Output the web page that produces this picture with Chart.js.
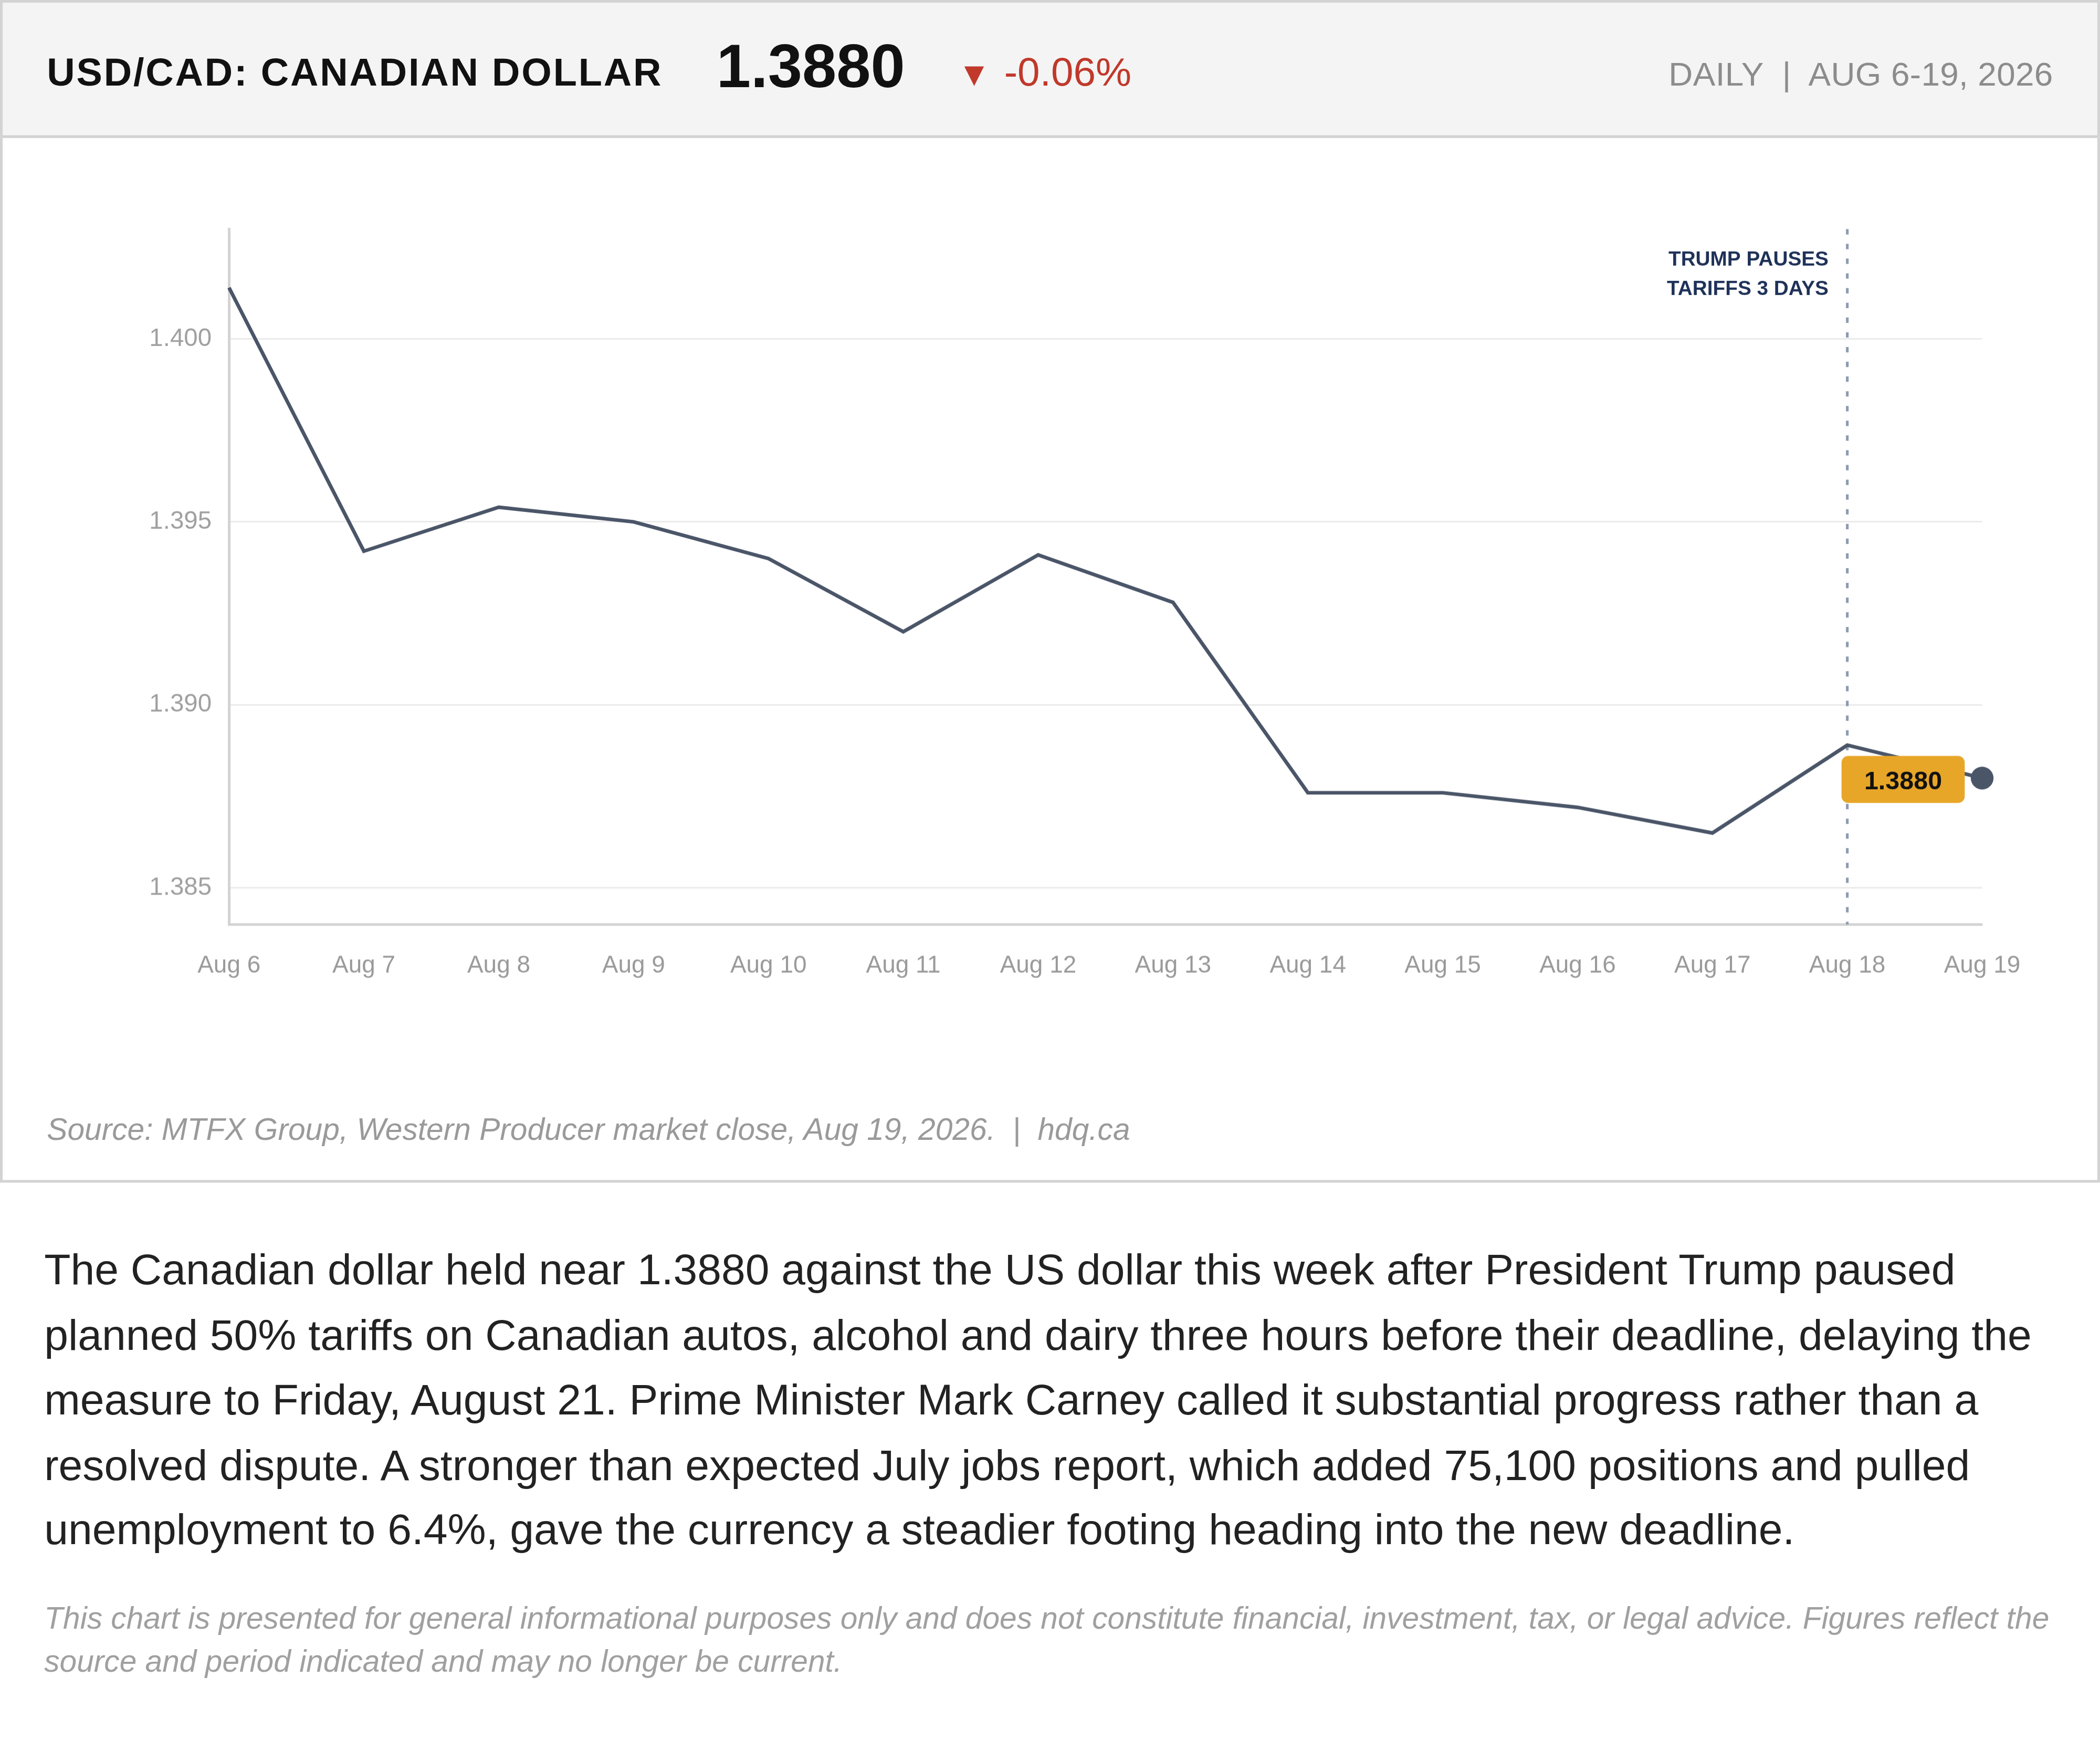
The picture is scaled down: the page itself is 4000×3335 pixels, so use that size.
<!DOCTYPE html>
<html lang="en">
<head>
<meta charset="utf-8">
<title>USD/CAD: Canadian Dollar</title>
<script src="https://cdn.jsdelivr.net/npm/chart.js@4.4.1/dist/chart.umd.min.js"></script>
<style>
  html, body { margin: 0; padding: 0; background: #fff; }
  body { width: 4000px; height: 3335px; overflow: hidden; font-family: "Liberation Sans", Arial, sans-serif; }
  /* laid out at 1568px wide, scaled up to the 4000px window */
  #page { position: relative; width: 1568px; height: 1307px; transform-origin: 0 0; transform: scale(2.5510204); }
  #page > div { position: absolute; }
  .card { left: 0; top: 0; width: 1568px; height: 883px; box-sizing: border-box; border: 2px solid #d3d3d3; }
  .head { left: 0; top: 0; width: 1568px; height: 103px; box-sizing: border-box; background: #f4f4f4; border: 2px solid #d3d3d3; }
  .line1 { line-height: 1; white-space: pre; }
  .title { left: 35px; top: 40px; font-size: 29px; font-weight: bold; letter-spacing: 1.1px; color: #111; }
  .price { left: 535px; top: 26px; font-size: 46px; font-weight: bold; color: #111; }
  .change { left: 715px; top: 39px; font-size: 30px; color: #c0392b; }
  .change .arrow { font-size: 25px; margin-right: 10px; }
  .period { right: 35px; top: 43px; font-size: 25px; letter-spacing: 0.15px; color: #8c8c8c; }
  .chart-box { left: 0; top: 103px; width: 1568px; height: 700px; }
  .source { left: 35px; top: 832px; font-size: 23px; font-style: italic; color: #9a9a9a; }
  .story { left: 33px; top: 924px; width: 1505px; font-size: 32.25px; line-height: 48.5px; color: #222; }
  .note { left: 33px; top: 1191.5px; width: 1505px; font-size: 23px; line-height: 32px; font-style: italic; color: #a0a0a0; }
</style>
</head>
<body>
<div id="page">
  <div class="card"></div>
  <div class="head"></div>
  <div class="line1 title">USD/CAD: CANADIAN DOLLAR</div>
  <div class="line1 price">1.3880</div>
  <div class="line1 change"><span class="arrow">▼</span>-0.06%</div>
  <div class="line1 period">DAILY  |  AUG 6-19, 2026</div>
  <div class="chart-box"><canvas id="usdcadChart"></canvas></div>
  <div class="line1 source">Source: MTFX Group, Western Producer market close, Aug 19, 2026.  |  hdq.ca</div>
  <div class="story">The Canadian dollar held near 1.3880 against the US dollar this week after President Trump paused planned 50% tariffs on Canadian autos, alcohol and dairy three hours before their deadline, delaying the measure to Friday, August 21. Prime Minister Mark Carney called it substantial progress rather than a resolved dispute. A stronger than expected July jobs report, which added 75,100 positions and pulled unemployment to 6.4%, gave the currency a steadier footing heading into the new deadline.</div>
  <div class="note">This chart is presented for general informational purposes only and does not constitute financial, investment, tax, or legal advice. Figures reflect the source and period indicated and may no longer be current.</div>
</div>

<script>
const DAYS = ['Aug 6', 'Aug 7', 'Aug 8', 'Aug 9', 'Aug 10', 'Aug 11', 'Aug 12',
              'Aug 13', 'Aug 14', 'Aug 15', 'Aug 16', 'Aug 17', 'Aug 18', 'Aug 19'];
const USDCAD = [1.4014, 1.3942, 1.3954, 1.3950, 1.3940, 1.3920, 1.3941,
                1.3928, 1.3876, 1.3876, 1.3872, 1.3865, 1.3889, 1.3880];
const Y_TICKS = [1.385, 1.390, 1.395, 1.400];
const Y_MIN = 1.384;
const Y_MAX = 1.403;
const EVENT_DAY = 'Aug 18';
const EVENT_NOTE = ['TRUMP PAUSES', 'TARIFFS 3 DAYS'];
const LAST_LABEL = '1.3880';

const FONT = '"Liberation Sans", Arial, sans-serif';
const LINE_COLOR = '#4a5568';

// dotted event marker + note, drawn under the line
// value badge next to the last point, drawn over it
const markers = {
  id: 'markers',
  beforeDatasetsDraw(chart) {
    const { ctx, chartArea, scales: { x } } = chart;
    const px = x.getPixelForValue(DAYS.indexOf(EVENT_DAY));
    ctx.save();
    ctx.strokeStyle = '#8e9bb0';
    ctx.lineWidth = 2;
    ctx.setLineDash([4, 7]);
    ctx.beginPath();
    ctx.moveTo(px, chartArea.top);
    ctx.lineTo(px, chartArea.bottom);
    ctx.stroke();
    ctx.setLineDash([]);
    ctx.fillStyle = '#1e3158';
    ctx.font = `bold 15.2px ${FONT}`;
    ctx.textAlign = 'right';
    ctx.textBaseline = 'middle';
    EVENT_NOTE.forEach((txt, i) => ctx.fillText(txt, px - 14, chartArea.top + 23 + i * 22));
    ctx.restore();
  },
  afterDatasetsDraw(chart) {
    const { ctx } = chart;
    const pts = chart.getDatasetMeta(0).data;
    const last = pts[pts.length - 1];
    const w = 92, h = 35;
    const bx = last.x - 13 - w;
    const by = last.y - h / 2 + 1;
    ctx.save();
    ctx.fillStyle = '#e8a628';
    ctx.beginPath();
    ctx.roundRect(bx, by, w, h, 5);
    ctx.fill();
    ctx.fillStyle = '#111';
    ctx.font = `bold 19px ${FONT}`;
    ctx.textAlign = 'center';
    ctx.textBaseline = 'middle';
    ctx.fillText(LAST_LABEL, bx + w / 2, by + h / 2 + 2);
    ctx.restore();
  }
};

const canvas = document.getElementById('usdcadChart');

new Chart(canvas, {
  type: 'line',
  data: {
    labels: DAYS,
    datasets: [{
      label: 'USD/CAD',
      data: USDCAD,
      borderColor: LINE_COLOR,
      borderWidth: 2.7,
      tension: 0,
      fill: false,
      pointRadius: USDCAD.map((v, i) => (i === USDCAD.length - 1 ? 8.5 : 0)),
      pointBackgroundColor: LINE_COLOR,
      pointBorderWidth: 0
    }]
  },
  options: {
    responsive: true,
    maintainAspectRatio: false,
    devicePixelRatio: 4000 / 1568,
    animation: false,
    events: [],
    layout: { padding: { top: 68, right: 88, bottom: 63, left: 0 } },
    plugins: {
      legend: { display: false },
      tooltip: { enabled: false }
    },
    scales: {
      x: {
        type: 'category',
        offset: false,
        afterFit: scale => { scale.height = 50; },
        grid: { display: false },
        border: { display: true, color: '#d3d3d3', width: 2 },
        ticks: {
          color: '#9a9a9a',
          font: { family: FONT, size: 18 },
          padding: 12,
          maxRotation: 0,
          autoSkip: false
        }
      },
      y: {
        min: Y_MIN,
        max: Y_MAX,
        afterFit: scale => { scale.width = 171; },
        afterBuildTicks: scale => { scale.ticks = Y_TICKS.map(v => ({ value: v })); },
        grid: { color: '#ebebeb', lineWidth: 1.2, drawTicks: false },
        border: { display: true, color: '#d3d3d3', width: 2 },
        ticks: {
          color: '#a0a0a0',
          font: { family: FONT, size: 18.6 },
          padding: 13,
          callback: v => v.toFixed(3)
        }
      }
    }
  },
  plugins: [markers]
});
</script>
</body>
</html>
